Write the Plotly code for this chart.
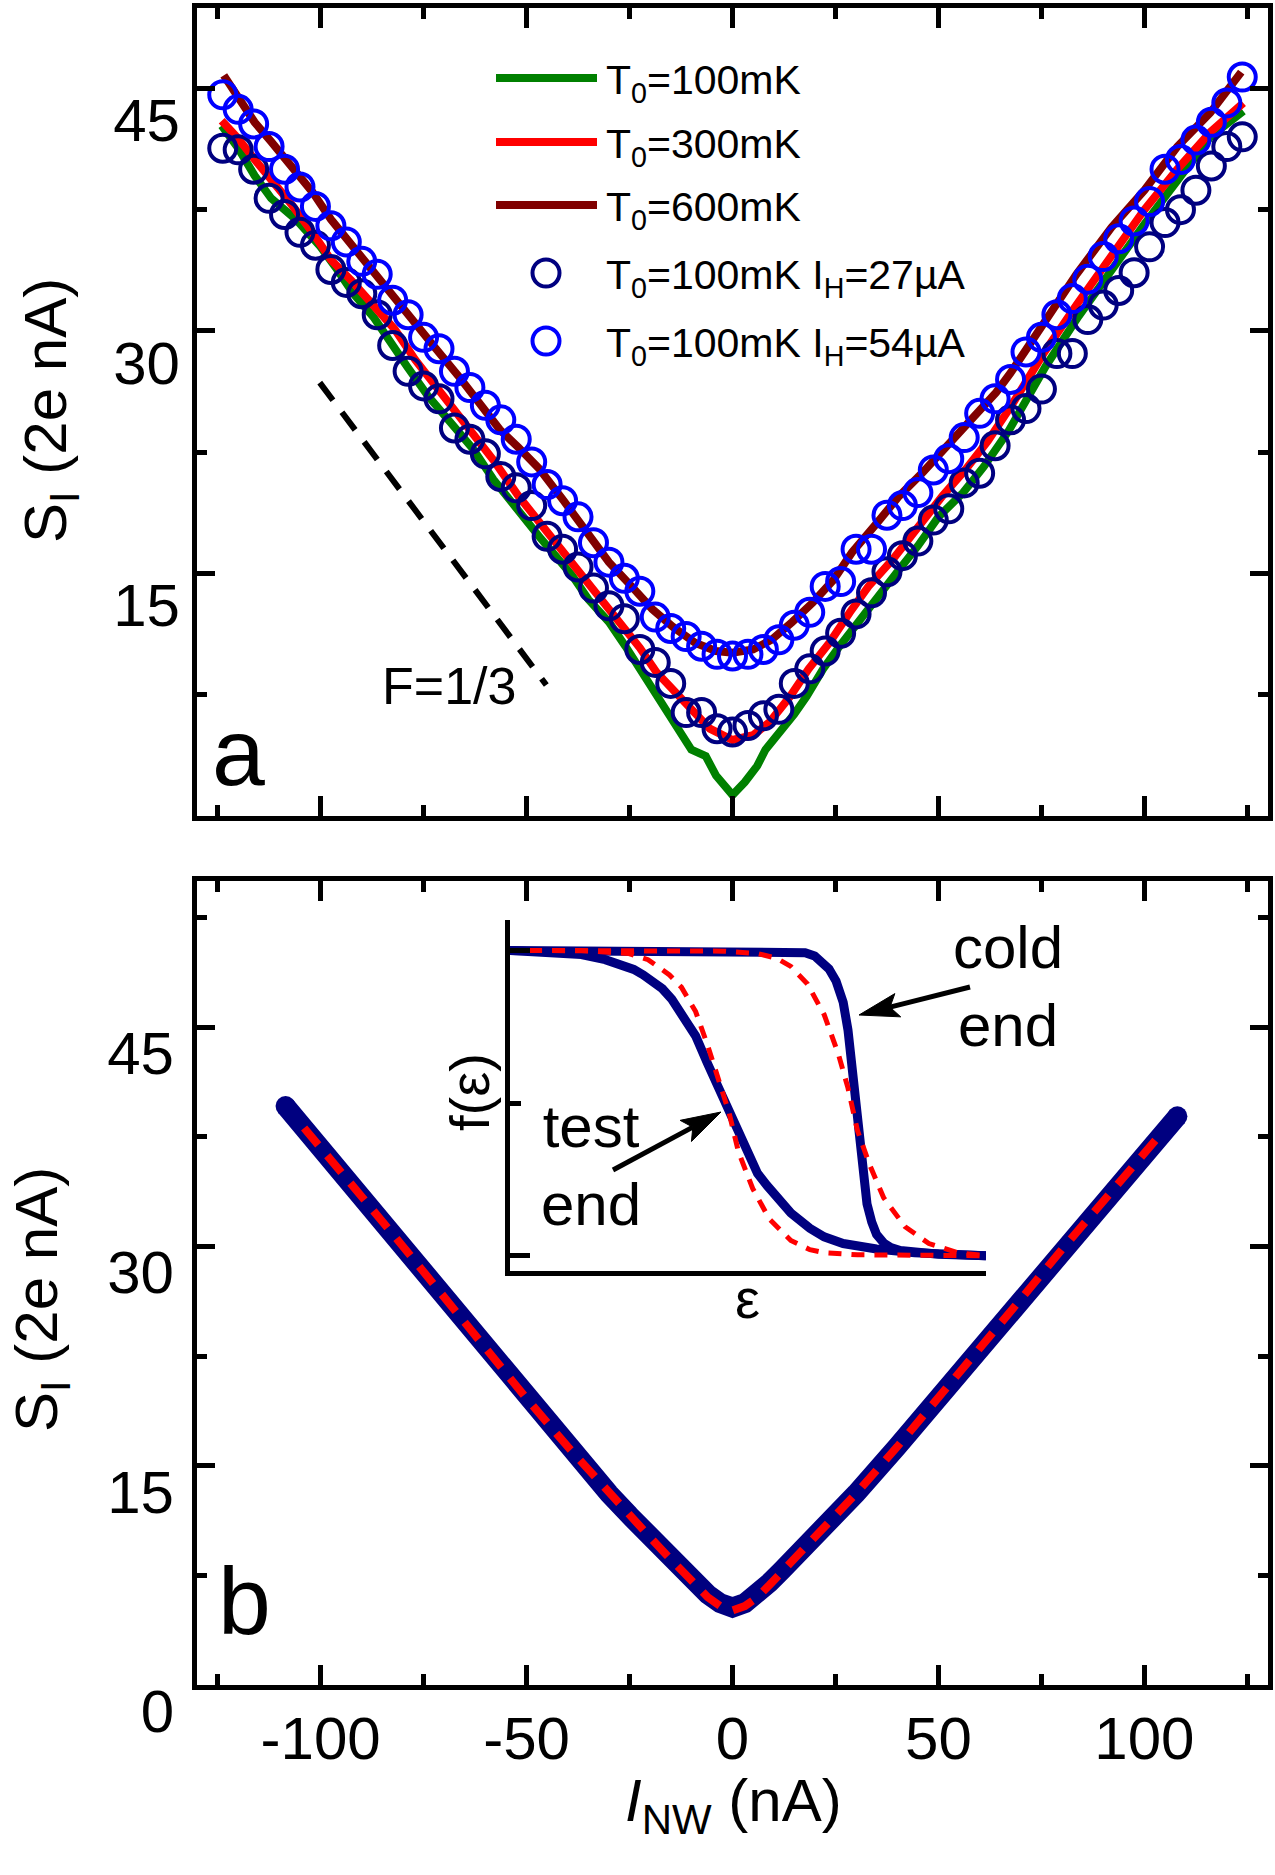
import math
import plotly.graph_objects as go

W, H = 1275, 1875
FONT = "Liberation Sans, Arial, Helvetica, sans-serif"

# ---------------- panel a : measured / calculated noise ----------------
green_x = [-124, -120, -116, -112, -106, -100, -96, -92, -87, -83, -79, -74, -68, -63, -58,
           -52, -47, -43, -39, -35, -30, -26, -22, -18, -14, -10, -6.5, -4, -1, 0, 3, 6, 8,
           11, 15, 18, 22, 26, 31, 35, 40, 45, 50, 56, 61, 67, 76, 84, 92, 100, 108, 116, 124]
green_y = [42.7, 41.3, 39.6, 38.2, 36.9, 35.2, 33.8, 32.3, 30.8, 29.4, 27.8, 26.0, 24.3, 22.7, 20.8,
           18.8, 17.3, 16.1, 14.9, 13.4, 12.0, 10.5, 8.9, 7.2, 5.6, 4.1, 3.7, 2.5, 1.6, 1.3, 2.1, 3.1, 4.1,
           5.0, 6.3, 7.4, 9.1, 10.5, 12.2, 13.6, 15.1, 16.7, 18.5, 20.0, 21.6, 23.8, 27.8, 30.9, 33.8, 36.6, 39.3, 42.0, 43.6]

red_x = [-124, -120, -116, -112, -107, -102, -97.5, -92.5, -87, -82, -77, -72, -67.5, -62.5, -58,
         -52, -46, -41, -36.5, -32.5, -27.5, -22.5, -18.5, -14.5, -9.5, -5.5, 0, 5, 9, 14, 18.5,
         23.5, 28.5, 33, 39, 44.5, 51, 56.5, 62, 67.5, 75.5, 83.5, 92, 100, 108, 116, 124]
red_y = [43.0, 41.9, 40.6, 39.4, 37.8, 36.1, 34.4, 33.1, 31.5, 30.1, 28.2, 26.6, 25.0, 23.5, 22.0,
         19.8, 17.9, 16.3, 14.7, 13.5, 12.0, 10.4, 8.9, 7.8, 6.4, 5.4, 4.7, 5.0, 5.8, 7.4, 9.1,
         10.7, 12.6, 14.2, 15.9, 17.7, 19.8, 21.4, 23.2, 25.3, 28.6, 31.6, 34.6, 37.5, 40.0, 42.3, 44.1]

dred_x = [-123.5, -120, -116, -112, -107, -102, -97.5, -92.5, -87, -82, -77, -72, -66.5, -61, -56.5,
          -52, -47, -41, -35.5, -30, -24.5, -19.5, -14.5, -9, -4, 0, 5, 9.5, 14.5, 19.5, 24.5, 29,
          35, 40.5, 46, 52, 58, 64, 67.5, 75.5, 83.5, 92, 100, 108, 116, 123.5]
dred_y = [45.8, 44.5, 42.9, 41.7, 40.2, 38.6, 36.9, 35.3, 33.6, 32.0, 30.5, 28.9, 27.2, 25.4, 23.9,
          22.8, 21.5, 19.5, 17.5, 15.7, 14.2, 12.8, 11.7, 10.7, 10.2, 10.1, 10.3, 10.9, 12.0, 13.2, 14.6, 16.3,
          18.1, 19.8, 21.2, 22.9, 24.5, 26.2, 27.4, 30.4, 33.5, 36.4, 38.7, 41.4, 43.5, 46.0]

circ_x = [-123.75, -120.0, -116.25, -112.5, -108.75, -105.0, -101.25, -97.5, -93.75, -90.0,
          -86.25, -82.5, -78.75, -75.0, -71.25, -67.5, -63.75, -60.0, -56.25, -52.5,
          -48.75, -45.0, -41.25, -37.5, -33.75, -30.0, -26.25, -22.5, -18.75, -15.0,
          -11.25, -7.5, -3.75, 0.0, 3.75, 7.5, 11.25, 15.0, 18.75, 22.5,
          26.25, 30.0, 33.75, 37.5, 41.25, 45.0, 48.75, 52.5, 56.25, 60.0,
          63.75, 67.5, 71.25, 75.0, 78.75, 82.5, 86.25, 90.0, 93.75, 97.5,
          101.25, 105.0, 108.75, 112.5, 116.25, 120.0, 123.75]
navy_y = [41.3, 41.2, 40.0, 38.2, 37.2, 36.1, 35.3, 33.8, 33.0, 32.3,
          31.0, 29.1, 27.5, 26.6, 25.8, 24.0, 23.3, 22.4, 21.0, 20.3,
          19.2, 17.3, 16.5, 15.4, 14.1, 13.0, 12.2, 10.3, 9.5, 8.2,
          6.4, 6.4, 5.4, 5.2, 5.6, 6.2, 6.6, 8.2, 9.1, 10.2,
          11.3, 12.5, 13.8, 15.1, 16.1, 17.0, 18.3, 19.0, 20.6, 21.2,
          22.9, 24.5, 25.2, 26.4, 28.6, 28.6, 30.7, 31.6, 32.5, 33.6,
          35.2, 36.7, 37.5, 38.7, 40.2, 41.4, 42.0]
blue_y = [44.6, 43.7, 42.8, 41.4, 40.0, 38.9, 37.7, 36.5, 35.5, 34.3,
          33.5, 31.9, 31.0, 29.6, 28.9, 27.5, 26.5, 25.4, 24.5, 23.3,
          21.9, 20.5, 19.5, 18.5, 16.9, 15.7, 14.7, 13.9, 12.3, 11.6,
          11.1, 10.5, 10.0, 9.9, 10.0, 10.3, 10.9, 11.8, 12.6, 14.2,
          14.5, 16.5, 16.5, 18.6, 19.2, 20.0, 21.4, 22.1, 23.4, 24.9,
          25.8, 27.0, 28.7, 29.6, 31.0, 32.0, 33.2, 34.6, 35.7, 36.8,
          38.0, 40.0, 40.6, 41.8, 42.9, 44.1, 45.7]

guide_x = [-100.2, -45.2]
guide_y = [26.8, 8.1]

legend_labels = ["T<sub>0</sub>=100mK", "T<sub>0</sub>=300mK", "T<sub>0</sub>=600mK",
                 "T<sub>0</sub>=100mK I<sub>H</sub>=27µA", "T<sub>0</sub>=100mK I<sub>H</sub>=54µA"]

# ---------------- panel b : model ----------------
b_x = [-108.5, -100, -90, -80, -70, -60, -50, -40, -30, -25, -20, -16, -12, -9, -6, -3, 0,
       3, 6, 9, 12, 16, 20, 25, 30, 40, 50, 60, 70, 80, 90, 100, 108]
b_navy = [39.6, 36.7, 33.4, 30.0, 26.5, 23.0, 19.6, 16.3, 13.1, 11.6, 10.1, 8.95, 7.85, 7.0, 6.2, 5.6, 5.3,
          5.6, 6.2, 7.0, 7.85, 8.95, 10.1, 11.6, 13.1, 16.3, 19.6, 23.0, 26.4, 29.8, 33.1, 36.3, 38.9]
b_red_x = [-104, -100, -90, -80, -70, -60, -50, -40, -30, -25, -20, -16, -12, -9, -6, -3, 0,
           3, 6, 9, 12, 16, 20, 25, 30, 40, 50, 60, 70, 80, 90, 100, 104]
b_red = [38.1, 36.7, 33.4, 30.0, 26.5, 23.0, 19.6, 16.3, 13.1, 11.6, 10.1, 8.9, 7.75, 6.85, 6.0, 5.4, 5.1,
         5.4, 6.0, 6.85, 7.75, 8.9, 10.1, 11.6, 13.1, 16.3, 19.6, 23.0, 26.4, 29.8, 33.1, 36.3, 37.7]

# inset: distribution functions f(eps)
test_x = [0, 0.5, 1.0, 1.5, 2.0, 2.3, 2.6, 2.8, 3.0, 3.2, 3.4, 3.65, 3.9, 4.15, 4.4, 4.6, 4.9,
          5.2, 5.4, 5.6, 5.9, 6.3, 6.6, 7.0, 7.7, 8.5, 10]
test_f = [1.0, 0.998, 0.995, 0.987, 0.97, 0.956, 0.938, 0.92, 0.90, 0.875, 0.84, 0.785, 0.72, 0.63,
          0.54, 0.47, 0.37, 0.27, 0.23, 0.19, 0.14, 0.09, 0.062, 0.04, 0.022, 0.01, 0.0]
cold_x = [0, 2, 4, 5.5, 6.0, 6.2, 6.4, 6.55, 6.7, 6.85, 7.0, 7.1, 7.2, 7.3, 7.4, 7.5, 7.6, 7.7,
          7.85, 8.0, 8.2, 8.5, 9.0, 10]
cold_f = [1.0, 1.0, 1.0, 1.0, 0.998, 0.993, 0.982, 0.965, 0.94, 0.9, 0.83, 0.74, 0.6, 0.42, 0.27,
          0.17, 0.11, 0.07, 0.042, 0.027, 0.017, 0.01, 0.005, 0.0]
test_fit_x = [0.4, 1.5, 2.5, 2.9, 3.1, 3.35, 3.6, 3.9, 4.15, 4.4, 4.6, 4.8, 5.1, 5.45, 5.9, 6.3,
              6.6, 7.3, 8.5, 10]
test_fit_f = [1.0, 1.0, 0.99, 0.97, 0.948, 0.92, 0.88, 0.80, 0.69, 0.57, 0.47, 0.34, 0.22, 0.12, 0.05,
              0.02, 0.01, 0.003, 0.0, 0.0]
cold_fit_x = [0.4, 3, 4.5, 5.2, 5.6, 5.9, 6.25, 6.6, 6.9, 7.1, 7.3, 7.55, 7.85, 8.3, 8.8, 9.4, 10]
cold_fit_f = [1.0, 1.0, 0.998, 0.99, 0.975, 0.948, 0.89, 0.79, 0.66, 0.55, 0.41, 0.30, 0.19, 0.095,
              0.04, 0.01, 0.0]


def px(x):
    return x / W


def py(y):
    return 1 - y / H


fig = go.Figure()

# panel a
fig.add_trace(go.Scatter(x=green_x, y=green_y, mode="lines", line=dict(color="#008000", width=8),
                         xaxis="x", yaxis="y", name="T0=100mK"))
fig.add_trace(go.Scatter(x=red_x, y=red_y, mode="lines", line=dict(color="#ff0000", width=8),
                         xaxis="x", yaxis="y", name="T0=300mK"))
fig.add_trace(go.Scatter(x=dred_x, y=dred_y, mode="lines", line=dict(color="#800000", width=8),
                         xaxis="x", yaxis="y", name="T0=600mK"))
fig.add_trace(go.Scatter(x=circ_x, y=navy_y, mode="markers",
                         marker=dict(symbol="circle-open", size=27, color="#000080",
                                     line=dict(width=4, color="#000080")),
                         xaxis="x", yaxis="y", name="IH=27uA"))
fig.add_trace(go.Scatter(x=circ_x, y=blue_y, mode="markers",
                         marker=dict(symbol="circle-open", size=27, color="#0000ff",
                                     line=dict(width=4, color="#0000ff")),
                         xaxis="x", yaxis="y", name="IH=54uA"))
fig.add_trace(go.Scatter(x=guide_x, y=guide_y, mode="lines",
                         line=dict(color="black", width=6, dash="22px,15px"),
                         xaxis="x", yaxis="y", name="F=1/3"))

# panel b
fig.add_trace(go.Scatter(x=b_x, y=b_navy, mode="lines", line=dict(color="#000080", width=20),
                         xaxis="x2", yaxis="y2", name="model"))
fig.add_trace(go.Scatter(x=[b_x[0], b_x[-1]], y=[b_navy[0], b_navy[-1]], mode="markers",
                         marker=dict(color="#000080", size=20, line=dict(width=0)),
                         xaxis="x2", yaxis="y2", hoverinfo="skip"))
fig.add_trace(go.Scatter(x=b_red_x, y=b_red, mode="lines",
                         line=dict(color="#ff0000", width=8, dash="22px,14px"),
                         xaxis="x2", yaxis="y2", name="fit"))

# inset
fig.add_trace(go.Scatter(x=test_x, y=test_f, mode="lines", line=dict(color="#000080", width=9),
                         xaxis="x3", yaxis="y3", name="test end"))
fig.add_trace(go.Scatter(x=cold_x, y=cold_f, mode="lines", line=dict(color="#000080", width=9),
                         xaxis="x3", yaxis="y3", name="cold end"))
fig.add_trace(go.Scatter(x=test_fit_x, y=test_fit_f, mode="lines",
                         line=dict(color="#ff0000", width=5, dash="13px,10px"),
                         xaxis="x3", yaxis="y3", name="test fit"))
fig.add_trace(go.Scatter(x=cold_fit_x, y=cold_fit_f, mode="lines",
                         line=dict(color="#ff0000", width=5, dash="13px,10px"),
                         xaxis="x3", yaxis="y3", name="cold fit"))

# legend samples (drawn on a pixel overlay axis)
leg_rows = [78, 142, 205, 273, 341]
leg_styles = [("line", "#008000"), ("line", "#ff0000"), ("line", "#800000"),
              ("marker", "#000080"), ("marker", "#0000ff")]
for (kind, col), yy in zip(leg_styles, leg_rows):
    if kind == "line":
        fig.add_trace(go.Scatter(x=[496, 597], y=[yy, yy], mode="lines",
                                 line=dict(color=col, width=8), xaxis="x4", yaxis="y4",
                                 hoverinfo="skip"))
    else:
        fig.add_trace(go.Scatter(x=[546], y=[yy], mode="markers",
                                 marker=dict(symbol="circle-open", size=27, color=col,
                                             line=dict(width=4, color=col)),
                                 xaxis="x4", yaxis="y4", hoverinfo="skip"))

common = dict(showline=True, linewidth=5, linecolor="black", mirror="ticks", ticks="inside",
              tickwidth=5, tickcolor="black", showgrid=False, zeroline=False, automargin=False,
              tickfont=dict(family=FONT, size=60, color="black"))

xdom = [px(197), px(1268)]
xmaj = [-100, -50, 0, 50, 100]
xmin_ = [-125, -75, -25, 25, 75, 125]

layout = dict(
    width=W, height=H, autosize=False, showlegend=False,
    margin=dict(l=0, r=0, t=0, b=0, pad=0),
    paper_bgcolor="white", plot_bgcolor="rgba(0,0,0,0)",
    font=dict(family=FONT, color="black"),
    xaxis=dict(common, domain=xdom, range=[-130, 130], anchor="y", tickmode="array",
               tickvals=xmaj, ticklen=20, showticklabels=False,
               minor=dict(tickmode="array", tickvals=xmin_, ticks="inside", ticklen=11,
                          tickwidth=5, tickcolor="black")),
    yaxis=dict(common, domain=[py(816), py(7.5)], range=[0, 50], anchor="x", tickmode="array",
               tickvals=[15, 30, 45], ticktext=["15", "30", "45"], ticklen=18,
               ticklabelshift=32, ticklabelstandoff=0,
               minor=dict(tickmode="array", tickvals=[7.5, 22.5, 37.5], ticks="inside", ticklen=10,
                          tickwidth=5, tickcolor="black")),
    xaxis2=dict(common, domain=xdom, range=[-130, 130], anchor="y2", tickmode="array",
                tickvals=xmaj, ticktext=["-100", "-50", "0", "50", "100"], ticklen=20,
                ticklabelstandoff=-3,
                minor=dict(tickmode="array", tickvals=xmin_, ticks="inside", ticklen=11,
                           tickwidth=5, tickcolor="black")),
    yaxis2=dict(common, domain=[py(1685), py(881)], range=[0, 55], anchor="x2", tickmode="array",
                tickvals=[0, 15, 30, 45], ticktext=["0", "15", "30", "45"], ticklen=18,
                ticklabelshift=26, ticklabelstandoff=6,
                minor=dict(tickmode="array", tickvals=[7.5, 22.5, 37.5, 52.5], ticks="inside",
                           ticklen=10, tickwidth=5, tickcolor="black")),
    xaxis3=dict(domain=[px(510), px(986)], range=[0, 10], anchor="y3", showline=True,
                linewidth=5, linecolor="black", ticks="", showticklabels=False,
                showgrid=False, zeroline=False, automargin=False),
    yaxis3=dict(domain=[py(1271), py(920)], range=[-0.05, 1.1], anchor="x3", showline=True,
                linewidth=5, linecolor="black", ticks="inside", tickmode="array", tickvals=[0, 1],
                ticklen=20, tickwidth=5, tickcolor="black", showticklabels=False,
                showgrid=False, zeroline=False, automargin=False,
                minor=dict(tickmode="array", tickvals=[0.5], ticks="inside", ticklen=11,
                           tickwidth=5, tickcolor="black")),
    xaxis4=dict(domain=[0, 1], range=[0, W], anchor="y4", visible=False, automargin=False),
    yaxis4=dict(domain=[0, 1], range=[H, 0], anchor="x4", visible=False, automargin=False),
)
fig.update_layout(**layout)

ann = []


def text(t, x, y, size, xanchor="center", yanchor="middle", angle=0, align="center"):
    ann.append(dict(text=t, x=px(x), y=py(y), xref="paper", yref="paper", showarrow=False,
                    xanchor=xanchor, yanchor=yanchor, textangle=angle, align=align,
                    font=dict(family=FONT, size=size, color="black")))


for lab, yy in zip(legend_labels, leg_rows):
    text(lab, 604, yy + 5, 41, xanchor="left")

text("F=1/3", 449, 686, 52)
text("a", 238, 752, 95)
text("b", 244, 1601, 95)
text("S<sub>I</sub> (2e nA)", 50, 411, 60, angle=-90)
text("S<sub>I</sub> (2e nA)", 41, 1300, 60, angle=-90)
text("<i>I</i><sub>NW</sub> (nA)", 733, 1805, 60)
text("cold<br>end", 1008, 986, 60)
text("test<br>end", 591, 1165, 60)
text("f(ε)", 469, 1092, 56, angle=-90)
text("ε", 747, 1298, 56)
fig.update_layout(annotations=ann)

# arrows in the inset (pixel overlay axis)
shapes = []


def arrow(tail, tip, L=40, hw=12):
    dx, dy = tip[0] - tail[0], tip[1] - tail[1]
    n = math.hypot(dx, dy)
    ux, uy = dx / n, dy / n
    nx, ny = -uy, ux
    bx, by = tip[0] - L * ux, tip[1] - L * uy
    nb_x, nb_y = tip[0] - 0.8 * L * ux, tip[1] - 0.8 * L * uy
    shapes.append(dict(type="line", xref="x4", yref="y4", x0=tail[0], y0=tail[1],
                       x1=nb_x, y1=nb_y, line=dict(color="black", width=5)))
    path = (f"M{tip[0]},{tip[1]} L{bx + hw * nx},{by + hw * ny} L{nb_x},{nb_y} "
            f"L{bx - hw * nx},{by - hw * ny} Z")
    shapes.append(dict(type="path", xref="x4", yref="y4", path=path,
                       fillcolor="black", line=dict(color="black", width=1)))


arrow((970, 987), (859, 1015))
arrow((613, 1170), (721, 1112))
fig.update_layout(shapes=shapes)

fig.write_html("out.html")
